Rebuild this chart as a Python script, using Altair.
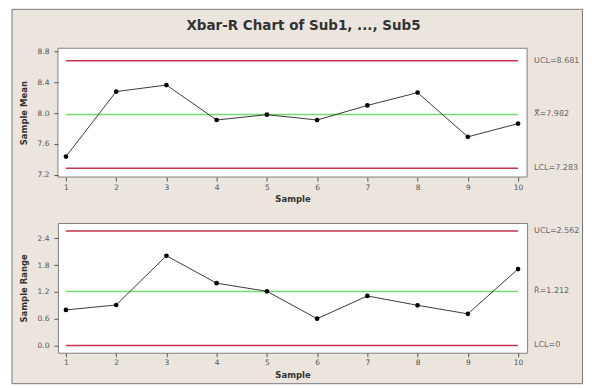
import altair as alt
import pandas as pd

# ---- data ----
samples = [1, 2, 3, 4, 5, 6, 7, 8, 9, 10]
xbar_values = [7.435, 8.279, 8.364, 7.910, 7.979, 7.910, 8.099, 8.266, 7.691, 7.863]
range_values = [0.797, 0.907, 2.010, 1.396, 1.214, 0.600, 1.110, 0.900, 0.709, 1.712]

xbar_limits = [8.681, 7.982, 7.283]
xbar_limit_labels = ["UCL=8.681", "X\u033f=7.982", "LCL=7.283"]
r_limits = [2.562, 1.212, 0.0]
r_limit_labels = ["UCL=2.562", "R\u0304=1.212", "LCL=0"]
limit_kinds = ["limit", "center", "limit"]

xbar_ticks = [7.2, 7.6, 8.0, 8.4, 8.8]
r_ticks = [0.0, 0.6, 1.2, 1.8, 2.4]
title_text = "Xbar-R Chart of Sub1, ..., Sub5"

# ---- styling ----
W = 470
H_TOP = 129
H_BOT = 130
GAP = 46
RED = "#C8344E"
GREEN = "#74DC74"
BEIGE = "#ECE5DE"
FONT = "DejaVu Sans"

x_scale = alt.Scale(domain=[0.84, 10.18], nice=False, zero=False)


def panel(values, limits, labels, ticks, ydomain, ytitle, height, decorate):
    pts = pd.DataFrame({"Sample": samples, "v": values})
    lim = pd.DataFrame({"x1": [samples[0]] * 3, "x2": [samples[-1]] * 3,
                        "v": limits, "label": labels, "kind": limit_kinds})
    yscale = alt.Scale(domain=ydomain, nice=False, zero=False)
    yaxis = alt.Axis(values=ticks, format=".1f", title=ytitle, zindex=2, titlePadding=9,
                     labelPadding=5, labelOverlap=False, labelBound=False, labelFlush=False)
    xaxis = alt.Axis(values=samples, format="d", title="Sample", zindex=2, labelOverlap=False,
                     labelFlush=False)
    X = alt.X("Sample:Q", scale=x_scale, axis=xaxis)
    Y = alt.Y("v:Q", scale=yscale, axis=yaxis)

    rules = alt.Chart(lim).mark_rule(strokeWidth=1.5).encode(
        x=alt.X("x1:Q", scale=x_scale, axis=xaxis),
        x2="x2:Q",
        y=Y,
        color=alt.Color("kind:N", scale=alt.Scale(domain=["limit", "center"], range=[RED, GREEN]), legend=None),
    )
    line = alt.Chart(pts).mark_line(color="#3a3a3a", strokeWidth=1).encode(x=X, y=Y)
    points = alt.Chart(pts).mark_point(filled=True, color="#000000", size=22, opacity=1).encode(x=X, y=Y)
    texts = alt.Chart(lim).mark_text(align="left", baseline="middle", fontSize=8, font=FONT,
                                      color="#666666", clip=False).encode(
        x=alt.value(W + 7),
        y=Y,
        text="label:N",
    )
    layers = []
    if decorate:
        one = pd.DataFrame({"a": [0]})
        frame_bottom = H_TOP + GAP + H_BOT + 31
        frame = alt.Chart(one).mark_rect(fill=BEIGE, stroke="#7a7a7a", strokeWidth=1, clip=False).encode(
            x=alt.value(-46), x2=alt.value(525.5), y=alt.value(-39), y2=alt.value(frame_bottom)
        )
        plotbg = alt.Chart(one).mark_rect(fill="white", stroke="#808080", strokeWidth=1).encode(
            x=alt.value(0), x2=alt.value(W), y=alt.value(0), y2=alt.value(height)
        )
        ttl = alt.Chart(one).mark_text(align="center", baseline="alphabetic", fontSize=13.5,
                                        fontWeight="bold", font=FONT, color="#333333").encode(
            x=alt.value(246), y=alt.value(-18), text=alt.value(title_text)
        )
        layers = [frame, plotbg, ttl]
    return alt.layer(*layers, rules, line, points, texts).properties(width=W, height=height)


top = panel(xbar_values, xbar_limits, xbar_limit_labels, xbar_ticks, [7.169, 8.842],
            "Sample Mean", H_TOP, True)
bottom = panel(range_values, r_limits, r_limit_labels, r_ticks, [-0.162, 2.745],
               "Sample Range", H_BOT, False)

chart = alt.vconcat(top, bottom, spacing=GAP, bounds="flush").properties(
    padding={"left": 3, "top": 0, "right": 0, "bottom": 0},
    background="white",
).configure_view(
    fill="white", stroke="#808080", strokeWidth=1
).configure_axis(
    domain=False,
    ticks=True,
    tickSize=4,
    tickColor="#555555",
    grid=False,
    labelOverlap=False,
    labelFont=FONT,
    labelFontSize=7.5,
    labelColor="#555555",
    labelPadding=2,
    titleFont=FONT,
    titleFontSize=8.5,
    titleFontWeight="bold",
    titleColor="#333333",
    titlePadding=4,
)

chart.save("out.html", embed_options={"renderer": "svg", "actions": False})
